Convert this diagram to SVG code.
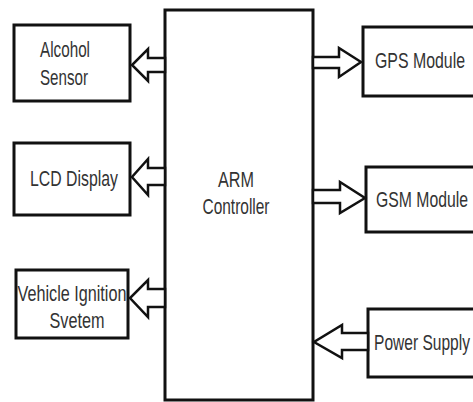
<svg xmlns="http://www.w3.org/2000/svg" width="473" height="402" viewBox="0 0 473 402">
<style>
.box{fill:#fff;stroke:#111;stroke-width:3}
.arr{fill:#fff;stroke:#111;stroke-width:2.5;stroke-linejoin:miter}
text{font-family:"Liberation Sans",Arial,sans-serif;font-size:22px;fill:#333;text-anchor:middle}
</style>
<rect width="473" height="402" fill="#fff"/>
<g id="arm"><rect class="box" x="165" y="10" width="148" height="390"/>
<text x="236" y="187" textLength="36" lengthAdjust="spacingAndGlyphs">ARM</text>
<text x="236" y="214" textLength="67" lengthAdjust="spacingAndGlyphs">Controller</text></g>
<g id="alcohol"><rect class="box" x="14" y="25" width="116" height="76"/>
<text x="65" y="57" textLength="50" lengthAdjust="spacingAndGlyphs">Alcohol</text>
<text x="64" y="85" textLength="48" lengthAdjust="spacingAndGlyphs">Sensor</text></g>
<g id="lcd"><rect class="box" x="14" y="143" width="116" height="72"/>
<text x="74" y="186" textLength="88" lengthAdjust="spacingAndGlyphs">LCD Display</text></g>
<g id="ignition"><rect class="box" x="16" y="270" width="112" height="68"/>
<text x="72" y="301" textLength="109" lengthAdjust="spacingAndGlyphs">Vehicle Ignition</text>
<text x="77" y="328" textLength="55" lengthAdjust="spacingAndGlyphs">Svetem</text></g>
<g id="gps"><rect class="box" x="363" y="27" width="120" height="69"/>
<text x="420" y="68" textLength="90" lengthAdjust="spacingAndGlyphs">GPS Module</text></g>
<g id="gsm"><rect class="box" x="366" y="167" width="120" height="65"/>
<text x="422" y="207" textLength="92" lengthAdjust="spacingAndGlyphs">GSM Module</text></g>
<g id="power"><rect class="box" x="368" y="309" width="120" height="68"/>
<text x="422" y="350" textLength="96" lengthAdjust="spacingAndGlyphs">Power Supply</text></g>
<g id="connectors">
<polygon class="arr" points="165,58 148,58 148,49 132,65 148,81 148,72 165,72"/>
<polygon class="arr" points="165,168 148,168 148,159 132,177 148,195 148,185 165,185"/>
<polygon class="arr" points="165,289 148,289 148,280 130,298 148,317 148,307 165,307"/>
<polygon class="arr" points="313,57 339,57 339,48 361,62 339,77 339,68 313,68"/>
<polygon class="arr" points="313,190 340,190 340,182 365,198 340,213 340,203 313,203"/>
<polygon class="arr" points="368,333 342,333 342,325 314,342 342,358 342,350 368,350"/>
</g>
</svg>
